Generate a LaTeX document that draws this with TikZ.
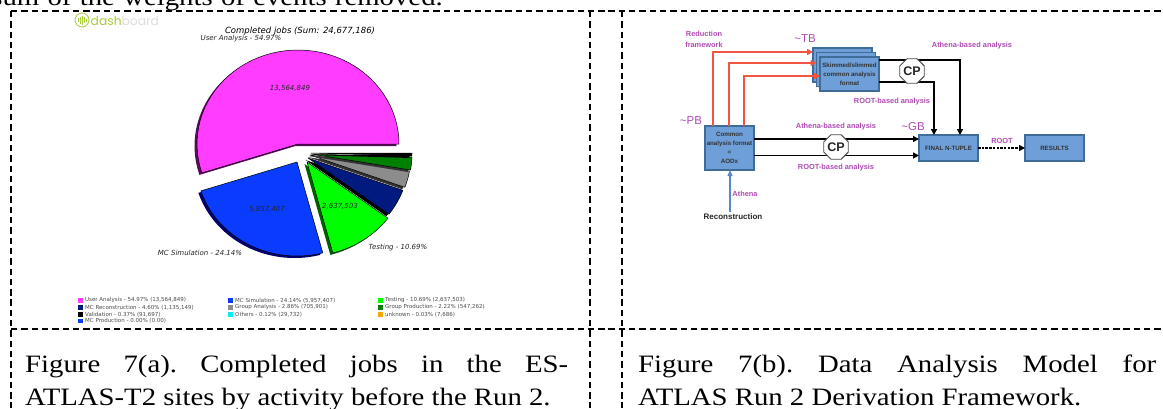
\documentclass[tikz,border=0pt]{standalone}
\usepackage{fontspec}
\setmainfont{Liberation Serif}
\newfontfamily\capf[FakeStretch=1.15]{Liberation Serif}
\newfontfamily\dejavu{DejaVu Sans}
\newfontfamily\arialf{Liberation Sans}
\newfontfamily\logof{Poppins}
\usetikzlibrary{arrows.meta,shapes.geometric,calc}
\definecolor{cMagenta}{HTML}{FF3CFF}
\definecolor{cMagentaS}{HTML}{5A0A5A}
\definecolor{cBlue}{HTML}{0A3CFF}
\definecolor{cBlueS}{HTML}{00006E}
\definecolor{cGreen}{HTML}{00FF00}
\definecolor{cGreenS}{HTML}{006000}
\definecolor{cNavy}{HTML}{001A80}
\definecolor{cGrey}{HTML}{8C8C8C}
\definecolor{cDGreen}{HTML}{008000}
\definecolor{cBox}{HTML}{6F9FD8}
\definecolor{cBoxE}{HTML}{3F6C98}
\definecolor{cRed}{HTML}{F0553F}
\definecolor{cPurple}{HTML}{B04CB4}
\definecolor{cArrowBlue}{HTML}{5B86C8}
\definecolor{cLogo}{HTML}{A8CC3C}
\definecolor{cLogoG}{HTML}{DEDEDE}
\definecolor{cCyan}{HTML}{00F0F0}
\definecolor{cOrange}{HTML}{F5A800}
% cx, cy, start, end, fill, shadow
\newcommand{\pieslice}[6]{%
  \fill[#6,shift={(-2.5,2)}] (#1,#2) -- plot[domain=#3:#4,samples=50] ({#1+101*cos(\x)},{#2-94*sin(\x)}) -- cycle;
  \draw[fill=#5,draw=black,line width=0.5pt,line join=round] (#1,#2) -- plot[domain=#3:#4,samples=50] ({#1+101*cos(\x)},{#2-94*sin(\x)}) -- cycle;
}
\tikzset{
  x=1pt,y=-1pt,
  frameline/.style={black,line width=1.7pt,dash pattern=on 6.4pt off 3.9pt},
  pietext/.style={font=\dejavu\itshape\fontsize{7}{8}\selectfont,text=black!85,inner sep=0pt},
  legtext/.style={font=\dejavu\fontsize{5.5}{6}\selectfont,text=black!70,anchor=west,inner sep=0pt},
  legbox/.style={minimum width=5pt,minimum height=4.5pt,inner sep=0pt,outer sep=0pt},
  caption/.style={font=\capf\fontsize{25}{27}\selectfont\frenchspacing,anchor=base west,inner sep=0pt},
  bluebox/.style={draw=cBoxE,line width=1.2pt,fill=cBox,inner sep=0pt,outer sep=0pt,align=center,font=\arialf\bfseries\fontsize{6.2}{9}\selectfont,text=black!80},
  purple/.style={font=\arialf\bfseries\fontsize{7.4}{11}\selectfont,text=cPurple,inner sep=0pt,align=center},
  sizelab/.style={font=\arialf\fontsize{11.5}{12}\selectfont,text=cPurple,inner sep=0pt},
  cpnode/.style={regular polygon,regular polygon sides=8,draw=black!70,line width=.9pt,fill=white,inner sep=0pt,minimum size=26pt,font=\arialf\bfseries\fontsize{12.5}{13}\selectfont,text=black!85,outer sep=0pt},
  redarrow/.style={draw=cRed,line width=2pt,-{Triangle[length=6pt,width=6pt]}},
  blackline/.style={draw=black,line width=1.5pt},
  blackarrow/.style={blackline,-{Triangle[length=6pt,width=6pt]}},
}
\begin{document}
\begin{tikzpicture}
\useasboundingbox (0,0) rectangle (1163,408);
\clip (0,0) rectangle (1163,408);
\fill[white] (0,0) rectangle (1163,408);

% running text cut at the top
\node[font=\capf\fontsize{25}{27}\selectfont,anchor=base east,inner sep=0pt] (toptext) at (443,5) {\spaceskip=8.3pt sum of the weights of events removed.};

% frame
\draw[frameline] (11,11) -- (1163,11);
\draw[frameline] (11,329) -- (1163,329);
\draw[frameline] (11,11) -- (11,408);
\draw[frameline] (590,11) -- (590,408);
\draw[frameline] (622,11) -- (622,408);

% logo
\draw[cLogo,line width=.8pt] (82,20) circle (7);
\foreach \xx/\hh in {78.5/2,80.5/3.5,82.5/4.5,84.5/3,86/1.5}
  \draw[cLogo,line width=.8pt] (\xx,20-\hh) -- (\xx,20+\hh);
\node[anchor=west,inner sep=0pt,font=\logof\fontsize{12.3}{13}\selectfont] (logo) at (90.5,20.5) {\textcolor{cLogo}{dash}\textcolor{cLogoG}{board}};

% pie
\pieslice{298}{144}{0}{197.9}{cMagenta}{cMagentaS}
\pieslice{297}{162}{197.9}{284.8}{cBlue}{cBlueS}
\pieslice{307}{162}{284.8}{323.3}{cGreen}{cGreenS}
\pieslice{308}{158}{323.3}{339.9}{cNavy}{black}
\pieslice{310}{155}{339.9}{350.2}{cGrey}{black!80}
\pieslice{311}{154}{350.2}{358.2}{cDGreen}{black!80}
\pieslice{311}{153}{358.2}{359.9}{black}{black}

\node[font=\dejavu\itshape\fontsize{8.5}{9}\selectfont,inner sep=0pt] (title) at (300,31) {Completed jobs (Sum: 24,677,186)};
\node[pietext] (lUA) at (241,39) {User Analysis - 54.97\%};
\node[pietext] (vUA) at (290,88) {13,564,849};
\node[pietext] (vMC) at (267,209) {5,957,407};
\node[pietext] (vTe) at (340,206) {2,637,503};
\node[pietext] (lMC) at (200,253) {MC Simulation - 24.14\%};
\node[pietext] (lTe) at (398,248) {Testing - 10.69\%};

% legend
\node[legbox,fill=cMagenta] (b11) at (80,300.3) {}; \node[legtext] (t11) at (85,300.3) {User Analysis - 54.97\% (13,564,849)};
\node[legbox,fill=cNavy]    (b12) at (80,307.3) {}; \node[legtext] (t12) at (85,307.3) {MC Reconstruction - 4.60\% (1,135,149)};
\node[legbox,fill=black]    (b13) at (80,314.3) {}; \node[legtext] (t13) at (85,314.3) {Validation - 0.37\% (91,697)};
\node[legbox,fill=cBlue]    (b14) at (80,321)   {}; \node[legtext] (t14) at (85,321)   {MC Production - 0.00\% (0.00)};
\node[legbox,fill=cBlue]    (b21) at (230,300.3) {}; \node[legtext] (t21) at (235,300.3) {MC Simulation - 24.14\% (5,957,407)};
\node[legbox,fill=cGrey]    (b22) at (230,307.3) {}; \node[legtext] (t22) at (235,307.3) {Group Analysis - 2.86\% (705,901)};
\node[legbox,fill=cCyan]    (b23) at (230,314.3) {}; \node[legtext] (t23) at (235,314.3) {Others - 0.12\% (29,732)};
\node[legbox,fill=cGreen]   (b31) at (380,300.3) {}; \node[legtext] (t31) at (385,300.3) {Testing - 10.69\% (2,637,503)};
\node[legbox,fill=cDGreen]  (b32) at (380,307.3) {}; \node[legtext] (t32) at (385,307.3) {Group Production - 2.22\% (547,262)};
\node[legbox,fill=cOrange]  (b33) at (380,314.3) {}; \node[legtext] (t33) at (385,314.3) {unknown - 0.03\% (7,686)};

% captions
\node[caption] (capA1) at (25,372) {\makebox[543pt][s]{Figure 7(a). Completed jobs in the ES-}};
\node[caption] (capA2) at (25,405) {ATLAS-T2 sites by activity before the Run 2.};
\node[caption] (capB1) at (638,372) {\makebox[518pt][s]{Figure 7(b). Data Analysis Model for}};
\node[caption] (capB2) at (638,405) {ATLAS Run 2 Derivation Framework.};

% data analysis model
\node[bluebox,minimum width=59pt,minimum height=34pt] (back) at (842.5,65) {};
\node[bluebox,minimum width=59pt,minimum height=34pt] (mid) at (846,69.5) {};
\node[bluebox,minimum width=59pt,minimum height=34pt] (front) at (849.5,74) {Skimmed/slimmed\\common analysis\\format};
\node[bluebox,minimum width=49pt,minimum height=44pt] (common) at (729.5,148) {Common\\analysis format\\=\\AODx};
\node[bluebox,minimum width=59pt,minimum height=26pt] (final) at (948.5,148) {FINAL N-TUPLE};
\node[bluebox,minimum width=59pt,minimum height=26pt] (results) at (1054.5,148) {RESULTS};

\coordinate (r1) at (713,52);
\coordinate (r2) at (729,63);
\coordinate (r3) at (744,76);
\draw[redarrow] (common.north -| r1) |- (back.west |- r1);
\draw[redarrow] (common.north -| r2) |- (mid.west |- r2);
\draw[redarrow] (common.north -| r3) |- (front.west |- r3);

\coordinate (t1) at (960,60);
\coordinate (t2) at (934,82);
\coordinate (m1) at (800,139);
\coordinate (m2) at (800,155.5);
\draw[blackarrow] (front.east |- t1) -| (final.north -| t1);
\draw[blackarrow] (front.east |- t2) -| (final.north -| t2);
\draw[blackarrow] (common.east |- m1) -- (final.west |- m1);
\draw[blackarrow] (common.east |- m2) -- (final.west |- m2);
\node[cpnode] (cpTop) at (912,71) {CP};
\node[cpnode] (cpMid) at (836,147) {CP};
\draw[black,line width=1.7pt,dash pattern=on 2.5pt off 1.2pt,-{Triangle[length=6pt,width=6pt]}] (final) -- (results);

\coordinate (recoTop) at (730,212);
\draw[draw=cArrowBlue,line width=1.3pt,-{Triangle[length=6pt,width=5pt]}] (recoTop) -- (common.south -| recoTop);

\node[purple] (lRed) at (704,39.5) {Reduction\\framework};
\node[purple] (lA1) at (972,46) {Athena-based analysis};
\node[purple] (lR1) at (892,102) {ROOT-based analysis};
\node[purple] (lA2) at (836,127) {Athena-based analysis};
\node[purple] (lR2) at (836,168) {ROOT-based analysis};
\node[purple] (lAth) at (745,194) {Athena};
\node[purple] (lRoot) at (1002,141) {ROOT};
\node[font=\arialf\bfseries\fontsize{8}{9}\selectfont,inner sep=0pt,text=black!85] (reco) at (733,217) {Reconstruction};
\node[sizelab] (sTB) at (805,39) {\textasciitilde TB};
\node[sizelab] (sPB) at (691,120.5) {\textasciitilde PB};
\node[sizelab] (sGB) at (913,127) {\textasciitilde GB};
\end{tikzpicture}
\end{document}
